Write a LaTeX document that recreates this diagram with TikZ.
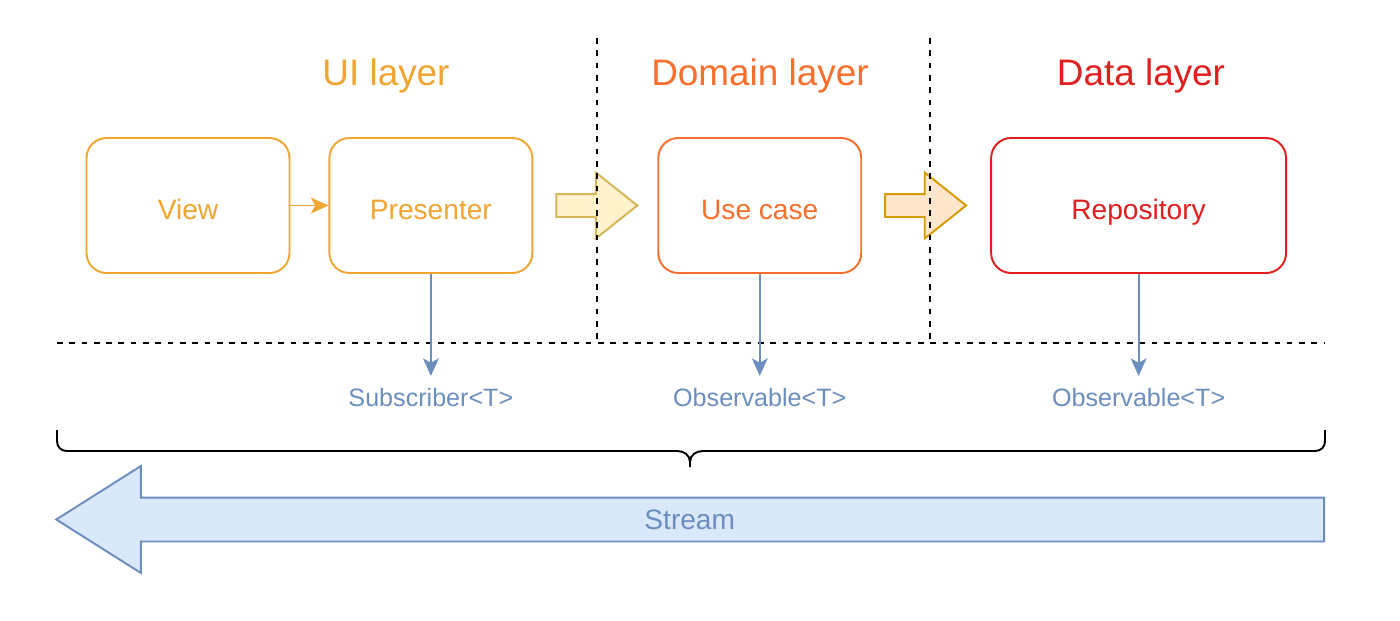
\documentclass[tikz,border=0pt]{standalone}
\usepackage{fontspec}
\setmainfont{Liberation Sans}
\usepackage{xcolor}
\usetikzlibrary{positioning,calc,shapes.arrows,arrows.meta}

\definecolor{uiorange}{RGB}{240,165,50}
\definecolor{domainorange}{RGB}{248,110,45}
\definecolor{datared}{RGB}{225,30,30}
\definecolor{streamblue}{HTML}{6C8EBF}
\definecolor{streamfill}{HTML}{DAE8FC}
\definecolor{yellowfill}{HTML}{FFF2CC}
\definecolor{yellowline}{HTML}{D6B656}
\definecolor{peachfill}{HTML}{FFE6CC}
\definecolor{peachline}{HTML}{D79B00}

\begin{document}
\begin{tikzpicture}[x=0.02cm, y=-0.02cm,
  layerbox/.style={rectangle, rounded corners=0.4cm, draw, line width=1.1pt, minimum width=4.06cm, minimum height=2.7cm, inner sep=0, text height=15.4pt, text depth=0pt, font=\fontsize{16}{19}\selectfont},
  layertitle/.style={font=\fontsize{21}{25}\selectfont},
  blockarrow/.style={single arrow, draw, line width=1.1pt, inner xsep=0, inner ysep=0.21cm, single arrow tip angle=77, single arrow head extend=0.43cm, minimum height=1.62cm},
  streamarrow/.style={single arrow, shape border rotate=180, draw=streamblue, fill=streamfill, line width=1.1pt, inner xsep=0, inner ysep=0.42cm, single arrow tip angle=64.6, single arrow head extend=0.63cm, minimum height=25.36cm},
  streamtext/.style={text=streamblue, font=\fontsize{16}{19}\selectfont},
  typelabel/.style={text=streamblue, inner xsep=0, inner ysep=0, text height=0.6cm, text depth=0pt, font=\fontsize{14.3}{17}\selectfont},
  flowline/.style={draw=streamblue, line width=1.1pt, -{Stealth[length=10pt, width=9pt, inset=2.5pt]}},
  uiflow/.style={draw=uiorange, line width=1.1pt, -{Stealth[length=10pt, width=9pt, inset=2.5pt]}},
  divider/.style={draw=black, line width=1pt, dash pattern=on 3.2pt off 3.8pt}]

\useasboundingbox (0,0) rectangle (1400,620);

%Titles
\node[layertitle, text=uiorange]     (uititle)     at (386,75.5)  {UI layer};
\node[layertitle, text=domainorange] (domaintitle) at (760,75.5)  {Domain layer};
\node[layertitle, text=datared]      (datatitle)   at (1141,75.5) {Data layer};

%Nodes
\node[layerbox, draw=uiorange, text=uiorange]         (view)        at (188,205.5) {View};
\node[layerbox, draw=uiorange, text=uiorange]         (presenter)   [right=0.76cm of view] {Presenter};
\node[layerbox, draw=domainorange, text=domainorange] (usecase)     [right=2.48cm of presenter] {Use case};
\node[layerbox, draw=datared, text=datared, minimum width=5.9cm] (repository) [right=2.56cm of usecase] {Repository};
\node[blockarrow, draw=yellowline, fill=yellowfill]   (uitodomain)   [right=0.44cm of presenter] {};
\node[blockarrow, draw=peachline, fill=peachfill]     (domaintodata) [right=0.44cm of usecase] {};
\node[typelabel] (subscriber) [below=2.04cm of presenter]  {Subscriber<T>};
\node[typelabel] (usecaseobs) [below=2.04cm of usecase]    {Observable<T>};
\node[typelabel] (repoobs)    [below=2.04cm of repository] {Observable<T>};

\coordinate (divatop) at (597,38);
\coordinate (divabot) at (597,343);
\coordinate (divbtop) at (930,38);
\coordinate (divbbot) at (930,343);
\coordinate (groundleft)  at (57,343);
\coordinate (groundright) at (1325,343);
\coordinate (braceleft)  at (57,430);
\coordinate (braceright) at (1325,430);
\coordinate (bracetip)   at (690,467);
\coordinate (streamtail) at (1325,519.5);

\node[streamarrow, anchor=tail] (stream) at (streamtail) {};
\node[streamtext] (streamlabel) at ($(stream.tip)!0.5!(stream.tail)$) {Stream};

%Lines
\draw[divider] (divatop) -- (divabot);
\draw[divider] (divbtop) -- (divbbot);
\draw[divider] (groundleft) -- (groundright);
\draw[uiflow] (view) -- (presenter);
\draw[flowline] (presenter) -- (subscriber);
\draw[flowline] (usecase) -- (usecaseobs);
\draw[flowline] (repository) -- (repoobs);
% brace over the stream
\draw[line width=1.1pt] (braceleft) -- (57,441) .. controls (57,447) and (61,451) .. (67,451) -- (677,451)
  .. controls (684,451) and (690,455) .. (690,462) -- (bracetip);
\draw[line width=1.1pt] (braceright) -- (1325,441) .. controls (1325,447) and (1321,451) .. (1315,451) -- (703,451)
  .. controls (696,451) and (690,455) .. (690,462);

\end{tikzpicture}
\end{document}
